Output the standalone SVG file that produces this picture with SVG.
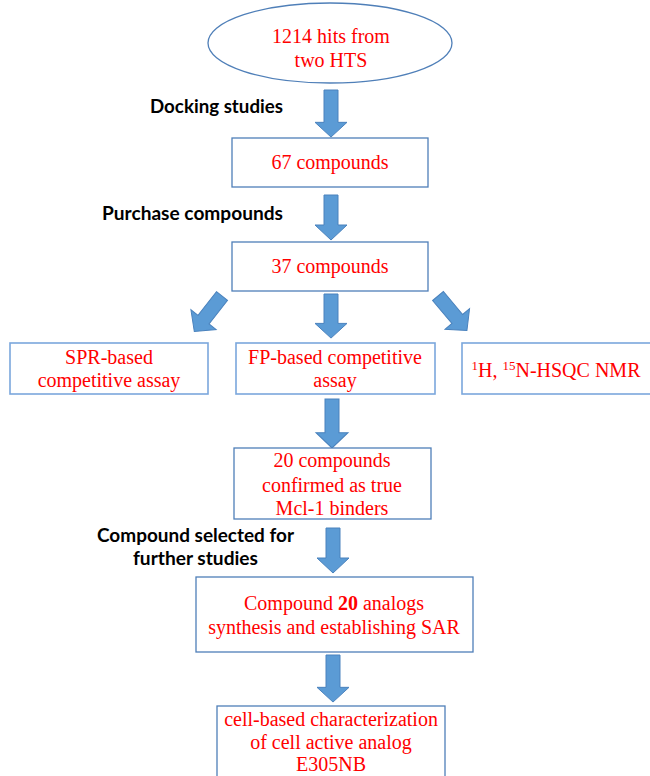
<svg xmlns="http://www.w3.org/2000/svg" width="650" height="776" viewBox="0 0 650 776">
<style>
.box{fill:#fff;stroke:#4f7fb8;stroke-width:1.3}
.lbox{fill:#fff;stroke:#7ba7dc;stroke-width:1.6}
.t{font-family:'Liberation Serif','Tinos','DejaVu Serif',serif;font-size:20px;fill:#ff0000;text-anchor:middle}
.lab{font-family:Lato,'Liberation Sans',sans-serif;font-weight:bold;font-size:18px;fill:#000}
.arr{fill:#5b9bd5;stroke:#4a82bd;stroke-width:1}
</style>
<defs>
<path id="a45" d="M-7,0 H7 V30 H16 L0,45 L-16,30 H-7 Z"/>
<path id="a48" d="M-7,0 H7 V33 H16 L0,48 L-16,33 H-7 Z"/>
</defs>
<rect width="650" height="776" fill="#fff"/>
<g id="connectors">
<use href="#a48" class="arr" transform="translate(331,90) scale(1,0.98)"/>
<use href="#a45" class="arr" transform="translate(331,195)"/>
<use href="#a45" class="arr" transform="translate(222,296) rotate(38)"/>
<use href="#a45" class="arr" transform="translate(331,294) scale(1,0.98)"/>
<use href="#a45" class="arr" transform="translate(438,296) rotate(-40)"/>
<use href="#a48" class="arr" transform="translate(332,399) scale(1,1.02)"/>
<use href="#a45" class="arr" transform="translate(333,528)"/>
<use href="#a48" class="arr" transform="translate(333,655) scale(1,0.98)"/>
</g>
<g id="labels">
<text class="lab" x="150" y="113" textLength="133" lengthAdjust="spacingAndGlyphs">Docking studies</text>
<text class="lab" x="102" y="220" textLength="181" lengthAdjust="spacingAndGlyphs">Purchase compounds</text>
<text class="lab" x="97" y="542" textLength="197" lengthAdjust="spacingAndGlyphs">Compound selected for</text>
<text class="lab" x="133" y="565" textLength="125" lengthAdjust="spacingAndGlyphs">further studies</text>
</g>
<g id="n1">
<ellipse cx="330" cy="43" rx="122" ry="40" fill="#fff" stroke="#4f7fb8" stroke-width="1.3"/>
<text class="t" x="331" y="43">1214 hits from</text>
<text class="t" x="331" y="67">two HTS</text>
</g>
<g id="n2">
<rect class="box" x="232" y="138" width="196" height="49"/>
<text class="t" x="330" y="169">67 compounds</text>
</g>
<g id="n3">
<rect class="box" x="232" y="242" width="196" height="49"/>
<text class="t" x="330" y="273">37 compounds</text>
</g>
<g id="n4">
<rect class="lbox" x="10" y="343" width="198" height="51"/>
<text class="t" x="109" y="364">SPR-based</text>
<text class="t" x="109" y="387">competitive assay</text>
</g>
<g id="n5">
<rect class="lbox" x="236" y="343" width="199" height="51"/>
<text class="t" x="335" y="364">FP-based competitive</text>
<text class="t" x="335" y="387">assay</text>
</g>
<g id="n6">
<rect class="lbox" x="462" y="343" width="195" height="51"/>
<text class="t" x="556" y="377"><tspan font-size="13" dy="-7">1</tspan><tspan dy="7">H, </tspan><tspan font-size="13" dy="-7">15</tspan><tspan dy="7">N-HSQC NMR</tspan></text>
</g>
<g id="n7">
<rect class="box" x="234" y="448" width="197" height="71"/>
<text class="t" x="332" y="467">20 compounds</text>
<text class="t" x="332" y="492">confirmed as true</text>
<text class="t" x="332" y="515">Mcl-1 binders</text>
</g>
<g id="n8">
<rect class="box" x="196" y="577" width="277" height="75"/>
<text class="t" x="334" y="610">Compound <tspan font-weight="bold">20</tspan> analogs</text>
<text class="t" x="334" y="634">synthesis and establishing SAR</text>
</g>
<g id="n9">
<rect class="box" x="217" y="706" width="228" height="80"/>
<text class="t" x="331" y="726">cell-based characterization</text>
<text class="t" x="331" y="749">of cell active analog</text>
<text class="t" x="331" y="771">E305NB</text>
</g>
</svg>
